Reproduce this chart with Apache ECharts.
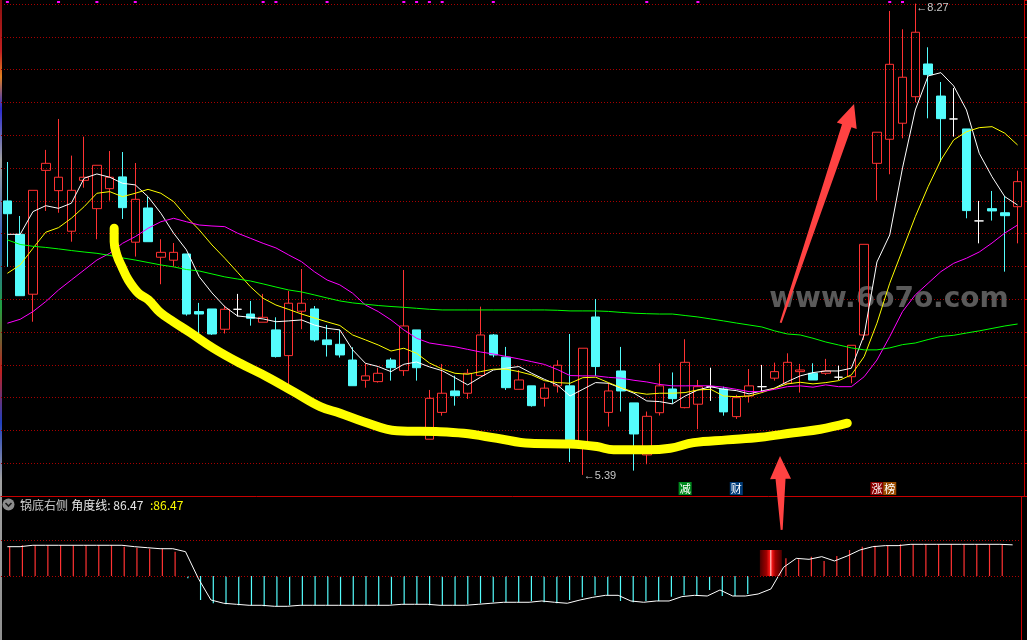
<!DOCTYPE html>
<html><head><meta charset="utf-8">
<script src="https://cdn.jsdelivr.net/npm/echarts@6/dist/echarts.min.js"></script>
<style>html,body{margin:0;padding:0;background:#000;overflow:hidden}#c{width:1027px;height:640px}</style>
</head><body><div id="c"></div>
<script>
// ---------- data ----------
const opens = [7.064,6.860,6.494,7.251,7.127,6.879,7.190,7.017,7.139,7.211,
 6.812,7.021,6.720,6.702,6.740,6.388,6.404,6.280,6.402,6.373,
 6.323,6.276,6.119,6.390,6.404,6.215,6.188,6.092,5.968,5.960,
 6.092,6.027,6.276,5.608,5.772,5.903,5.889,5.997,6.245,6.109,
 5.913,5.934,5.858,5.934,5.934,5.593,6.355,5.772,6.025,5.830,
 5.512,5.770,5.915,5.801,5.822,5.929,5.915,5.746,5.872,5.929,
 5.981,5.950,6.021,6.011,6.011,5.987,5.990,6.245,7.294,7.441,
 7.539,7.701,7.901,7.705,7.565,7.504,6.942,7.017,6.992,7.029];
const closes = [6.986,6.485,7.129,7.294,7.209,7.129,7.209,7.282,7.209,7.023,
 7.074,6.815,6.750,6.750,6.373,6.373,6.251,6.402,6.402,6.347,
 6.353,6.113,6.439,6.439,6.215,6.186,6.123,5.935,5.995,6.011,
 6.045,6.300,6.045,5.858,5.889,5.874,6.011,6.245,6.123,5.923,
 5.970,5.813,5.920,6.060,5.605,6.164,6.052,5.903,5.903,5.640,
 5.748,5.934,5.856,6.078,5.929,5.929,5.775,5.862,5.934,5.929,
 6.021,6.078,6.031,5.970,6.025,5.987,6.182,6.799,7.484,7.899,
 7.820,8.095,7.836,7.567,7.565,7.005,6.942,7.003,6.974,7.182];
const highs = [7.302,6.972,7.129,7.376,7.565,7.341,7.457,7.282,7.369,7.363,
 7.296,7.090,6.830,6.807,6.740,6.441,6.404,6.424,6.496,6.453,
 6.496,6.353,6.514,6.648,6.422,6.306,6.276,6.170,6.072,6.045,
 6.105,6.642,6.276,5.909,6.068,5.996,6.037,6.418,6.251,6.172,
 6.031,5.934,5.950,6.091,6.251,6.164,6.465,5.952,6.172,5.830,
 5.777,6.072,6.016,6.219,5.970,6.045,5.929,5.879,6.037,6.062,
 6.076,6.133,6.068,6.072,6.099,6.058,6.182,6.799,7.484,8.225,
 8.113,8.270,8.003,7.791,7.754,7.504,7.064,7.125,7.094,7.249];
const lows = [6.661,6.485,6.326,7.003,6.992,6.815,7.145,6.830,7.066,6.954,
 6.724,6.815,6.555,6.662,6.363,6.241,6.245,6.254,6.358,6.302,
 6.323,6.107,5.929,6.280,6.204,6.113,6.107,5.935,5.923,5.954,
 5.966,5.995,5.966,5.608,5.752,5.813,5.854,5.997,6.109,5.909,
 5.913,5.807,5.807,5.893,5.469,5.390,5.995,5.685,5.777,5.416,
 5.455,5.753,5.824,5.797,5.669,5.842,5.752,5.732,5.832,5.899,
 5.966,5.950,5.893,5.970,6.001,5.970,5.950,6.215,7.066,7.227,
 7.447,7.667,7.569,7.304,7.457,6.958,6.805,6.944,6.632,6.805];
const ma5 = [6.860,6.860,6.999,7.035,7.019,7.050,7.203,7.229,7.209,7.172,
 7.162,7.090,6.989,6.867,6.765,6.601,6.502,6.418,6.361,6.353,
 6.343,6.326,6.331,6.337,6.306,6.286,6.276,6.154,6.072,6.052,
 6.021,6.066,6.080,6.050,6.027,5.984,5.940,5.987,6.031,6.042,
 6.052,6.011,5.974,5.940,5.872,5.913,5.954,5.950,5.920,5.889,
 5.842,5.838,5.824,5.872,5.909,5.929,5.913,5.905,5.885,5.903,
 5.920,5.960,5.995,6.015,6.025,6.025,6.042,6.245,6.691,6.856,
 7.266,7.620,7.828,7.848,7.767,7.620,7.355,7.212,7.090,7.039];
const ma10 = [6.622,6.673,6.775,6.873,6.901,6.958,7.029,7.111,7.121,7.090,
 7.111,7.135,7.111,7.060,6.968,6.887,6.795,6.714,6.628,6.540,
 6.469,6.428,6.401,6.373,6.349,6.325,6.303,6.245,6.215,6.184,
 6.147,6.164,6.133,6.074,6.037,6.011,6.005,6.021,6.036,6.036,
 6.021,6.001,5.966,5.954,5.950,5.984,5.987,5.954,5.923,5.895,
 5.883,5.889,5.889,5.893,5.909,5.913,5.872,5.868,5.872,5.893,
 5.920,5.946,5.956,5.946,5.954,5.966,6.001,6.113,6.317,6.561,
 6.765,6.968,7.151,7.314,7.437,7.487,7.512,7.518,7.478,7.406];
const ma20 = [6.317,6.341,6.388,6.449,6.520,6.581,6.642,6.703,6.744,6.805,
 6.846,6.897,6.937,6.958,6.937,6.917,6.911,6.907,6.867,6.836,
 6.805,6.777,6.734,6.693,6.632,6.581,6.551,6.500,6.428,6.388,
 6.337,6.276,6.225,6.196,6.184,6.173,6.157,6.141,6.129,6.114,
 6.099,6.082,6.065,6.034,5.997,5.995,5.995,5.986,5.981,5.968,
 5.958,5.943,5.934,5.934,5.935,5.934,5.926,5.913,5.899,5.899,
 5.913,5.929,5.934,5.926,5.940,5.929,5.929,5.990,6.092,6.235,
 6.388,6.490,6.561,6.632,6.683,6.714,6.752,6.807,6.868,6.917];
const ma60 = [6.826,6.798,6.787,6.780,6.771,6.761,6.752,6.744,6.731,6.716,
 6.703,6.688,6.673,6.661,6.645,6.636,6.618,6.600,6.587,6.575,
 6.557,6.538,6.520,6.508,6.490,6.471,6.453,6.441,6.433,6.425,
 6.419,6.414,6.408,6.402,6.398,6.398,6.398,6.398,6.398,6.398,
 6.398,6.398,6.398,6.396,6.392,6.392,6.392,6.389,6.383,6.378,
 6.375,6.373,6.373,6.364,6.355,6.343,6.331,6.318,6.306,6.294,
 6.270,6.251,6.245,6.225,6.202,6.184,6.166,6.154,6.154,6.166,
 6.186,6.196,6.217,6.236,6.243,6.257,6.270,6.285,6.300,6.312];
// 角度线 indicator (lower panel)
const angleLine = [81.4,81.4,85.3,85.3,85.3,85.3,85.3,85.3,85.3,85.3,
 81.4,78.6,75.8,75.8,67.5,-6.4,-66.7,-75.8,-78.6,-81.4,
 -81.4,-84.2,-84.2,-81.4,-81.4,-81.4,-81.4,-81.4,-81.4,-81.4,
 -81.4,-78.6,-78.6,-78.6,-81.4,-81.4,-81.4,-78.6,-75.8,-73,
 -73,-73,-69.4,-73,-75.8,-66.7,-59.3,-53.7,-53.7,-69.4,
 -73,-69.4,-69.4,-57.4,-53.7,-55.6,-38.9,-55.6,-55.6,-50,
 -36.1,24.2,49,46.3,53.7,41.7,55.6,72.2,81.4,84.3,
 84.3,88,88,88,88,88,88,88,88,86.47];
const signalIndex = 60;      // 锅底右侧 signal bar
const signalValue = 72.2;
// small magenta event marks along the top
const eventMarks = [0,4,7,10,20,21,25,31,32,33,34,38,50,54,69,70];
// event tags at the bottom of the price panel
const tagIdx = [53,57,68,69];
const tagText = ['减','财','涨','榜'];
// hand-drawn annotations (candle index, price)
const potX = [8.35,8.35,8.56,8.95,9.46,10.25,11.03,11.94,12.98,14.29,16.11,18.20,20.29,22.37,24.46,26.02,27.85,30.46,33.84,35.67,38.28,40.88,44.01,46.10,47.40,50.01,51.83,53.66,56.27,58.88,61.48,63.57,65.68];
const potY = [6.897,6.815,6.734,6.662,6.581,6.500,6.459,6.383,6.326,6.260,6.164,6.072,5.990,5.899,5.807,5.767,5.715,5.660,5.654,5.644,5.614,5.583,5.579,5.563,5.543,5.543,5.553,5.587,5.604,5.620,5.648,5.669,5.706];
const arrowTail = [[60.47,6.320],[60.55,5.054]];
const arrowTip  = [[66.21,7.657],[60.42,5.506]];
// axis ranges
const priceMax = 8.292, priceMin = 5.261;
const angleMin = -177.8, angleMax = 219.4;

// ---------- build ----------
const N = opens.length;
const categories = opens.map((_, i) => String(i + 1));
const kData = opens.map((o, i) => [o, closes[i], lows[i], highs[i]]);
const iHi = highs.indexOf(Math.max(...highs));
const iLo = lows.indexOf(Math.min(...lows));
const RED = '#ff3232', CYAN = '#54fcfc';
const tagColors = {'减':'#008a1e','财':'#003c78','涨':'#8c0000','榜':'#9a4c00'};
const lastAngle = angleLine[N - 1].toFixed(2);

const chart = echarts.init(document.getElementById('c'));
const maLine = (name, data, color) => ({
  name, type:'line', data, xAxisIndex:0, yAxisIndex:0, symbol:'none', silent:true,
  lineStyle:{color, width:1}, z:3
});

chart.setOption({
  backgroundColor:'#000000',
  animation:false,
  textStyle:{fontFamily:'"Noto Sans CJK SC", "DejaVu Sans", sans-serif'},
  grid:[
    {left:1, right:3, top:0, height:496},
    {left:1, width:1018, top:497, height:143}
  ],
  xAxis:[
    {type:'category', gridIndex:0, data:categories, boundaryGap:true,
     axisLine:{show:true, onZero:false, lineStyle:{color:'#c80000', width:1}},
     axisTick:{show:false}, axisLabel:{show:false}, splitLine:{show:false}},
    {type:'value', gridIndex:0, min:-0.5, max:N - 0.5, show:false},
    {type:'category', gridIndex:1, data:categories, boundaryGap:true, show:false}
  ],
  yAxis:[
    {type:'value', gridIndex:0, min:priceMin, max:priceMax, show:false, scale:true},
    {type:'value', gridIndex:0, min:-0.686, max:14.436, interval:1, position:'right',
     axisLine:{show:true, lineStyle:{color:'#c80000'}},
     axisTick:{show:true, inside:false, length:4, lineStyle:{color:'#c80000'}},
     axisLabel:{show:false},
     splitLine:{show:true, showMinLine:false, showMaxLine:false,
       lineStyle:{color:'#a80000', type:[1,2], width:1}}},
    {type:'value', gridIndex:1, min:angleMin, max:angleMax, position:'right', offset:2,
     axisLine:{show:true, lineStyle:{color:'#c80000'}},
     axisTick:{show:false}, axisLabel:{show:false}, splitLine:{show:false}}
  ],
  graphic:[
    {type:'rect', z:0, silent:true, shape:{x:0, y:0, width:2, height:640},
     style:{fill:new echarts.graphic.LinearGradient(0,0,0,1,[
       {offset:0,color:'#8a1010'},{offset:0.08,color:'#c02020'},{offset:0.12,color:'#e08020'},
       {offset:0.17,color:'#2a2ad0'},{offset:0.25,color:'#a0a0a0'},{offset:0.38,color:'#3060c0'},
       {offset:0.48,color:'#20a040'},{offset:0.58,color:'#c02020'},{offset:0.66,color:'#2040c0'},
       {offset:0.75,color:'#a0a0a0'},{offset:1,color:'#909090'}])}},
    {type:'text', z:1, silent:true, x:889, y:300,
     style:{text:'www.6o7o.com', align:'center', verticalAlign:'middle',
       font:'bold 28px "DejaVu Sans"', fill:'#5a5a5a'}},
    {type:'circle', z:5, silent:true, shape:{cx:8.5, cy:504.5, r:6}, style:{fill:'#8c8c8c'}},
    {type:'polyline', z:6, silent:true, shape:{points:[[5.5,503],[8.5,506],[11.5,503]]},
     style:{stroke:'#1a1a1a', lineWidth:1.6, fill:null}},
    {type:'text', z:5, silent:true, x:20, y:505,
     style:{text:'{a|锅底右侧} {b|角度线: ' + lastAngle + '}  {c|:' + lastAngle + '}',
       verticalAlign:'middle',
       rich:{
         a:{fill:'#c8c8c8', font:'12px "Noto Sans CJK SC"'},
         b:{fill:'#e8e8e8', font:'12px "Noto Sans CJK SC"'},
         c:{fill:'#ffff00', font:'12px "Noto Sans CJK SC"'}
       }}}
  ],
  series:[
    {type:'candlestick', name:'K', data:kData, xAxisIndex:0, yAxisIndex:0, barWidth:9, z:2, silent:true,
     itemStyle:{color:'rgba(0,0,0,0)', color0:CYAN, borderColor:RED, borderColor0:CYAN,
       borderColorDoji:'#ffffff', borderWidth:1},
     markPoint:{symbol:'circle', symbolSize:0, silent:true, animation:false,
       label:{show:true, position:'right', distance:1, color:'#c8c8c8', fontSize:11,
         fontFamily:'"Liberation Sans", "DejaVu Sans"',
         formatter:p => '\u2190' + Number(p.value).toFixed(2)},
       data:[
         {coord:[categories[iHi], highs[iHi]], value:highs[iHi], label:{offset:[0,4]}},
         {coord:[categories[iLo], lows[iLo]], value:lows[iLo], label:{offset:[0,1]}}
       ]}},
    maLine('MA5', ma5, '#ffffff'),
    maLine('MA10', ma10, '#ffff00'),
    maLine('MA20', ma20, '#ff00ff'),
    maLine('MA60', ma60, '#00ff00'),
    {type:'custom', name:'marks', xAxisIndex:0, yAxisIndex:0, silent:true, clip:false, z:4,
     data:eventMarks.map(i => [i, priceMax]),
     renderItem:(params, api) => {
       const x = api.coord([api.value(0), api.value(1)])[0];
       return {type:'rect', shape:{x:x - 1.5, y:params.coordSys.y + 1, width:3, height:2},
         style:{fill:'#ff00ff'}};
     }},
    {type:'custom', name:'tags', xAxisIndex:0, yAxisIndex:0, silent:true, clip:false, z:5,
     data:tagIdx.map(i => [i, priceMin]),
     renderItem:(params, api) => {
       const x = api.coord([api.value(0), api.value(1)])[0];
       const yb = params.coordSys.y + params.coordSys.height;
       const t = tagText[params.dataIndex];
       return {type:'group', children:[
         {type:'rect', shape:{x:x - 6.5, y:yb - 14, width:13, height:13}, style:{fill:tagColors[t]}},
         {type:'text', style:{text:t, x:x, y:yb - 7.5, align:'center', verticalAlign:'middle',
           fill:'#ffffff', font:'11px "Noto Sans CJK SC"'}}
       ]};
     }},
    {type:'line', name:'pot', xAxisIndex:1, yAxisIndex:0, silent:true, z:6, symbol:'none',
     smooth:0.4, data:potX.map((x, i) => [x, potY[i]]),
     lineStyle:{color:'#ffff00', width:9, cap:'round', join:'round'}},
    {type:'custom', name:'arrows', xAxisIndex:1, yAxisIndex:0, silent:true, clip:false, z:10,
     data:arrowTail.map((t, i) => [t[0], t[1], arrowTip[i][0], arrowTip[i][1]]),
     encode:{x:[0,2], y:[1,3]},
     renderItem:(params, api) => {
       const a = api.coord([api.value(0), api.value(1)]);
       const b = api.coord([api.value(2), api.value(3)]);
       const dx = b[0] - a[0], dy = b[1] - a[1], L = Math.hypot(dx, dy);
       const ux = dx / L, uy = dy / L, nx = -uy, ny = ux;
       const H = 23, HW = 10.5, NW = 5, TW = 1;
       const bx = b[0] - ux * H, by = b[1] - uy * H;
       return {type:'polygon', shape:{points:[
         [a[0] + nx * TW, a[1] + ny * TW], [bx + nx * NW, by + ny * NW], [bx + nx * HW, by + ny * HW],
         [b[0], b[1]],
         [bx - nx * HW, by - ny * HW], [bx - nx * NW, by - ny * NW], [a[0] - nx * TW, a[1] - ny * TW]
       ]}, style:{fill:'#ff4242'}};
     }},
    {type:'bar', name:'angleBars', xAxisIndex:2, yAxisIndex:2, silent:true, barWidth:1.2, z:2,
     data:angleLine.map((v, i) => i === signalIndex ? null : v),
     itemStyle:{color:p => p.value >= 0 ? RED : CYAN}},
    {type:'bar', name:'signal', xAxisIndex:2, yAxisIndex:2, silent:true, barWidth:22, barGap:'-100%', z:3,
     data:angleLine.map((v, i) => i === signalIndex ? signalValue : null),
     itemStyle:{color:new echarts.graphic.LinearGradient(0,0,1,0,[
       {offset:0,color:'#4a0000'},{offset:0.3,color:'#a00000'},{offset:0.46,color:'#ff1a1a'},
       {offset:0.5,color:'#ffffff'},{offset:0.54,color:'#ff1a1a'},{offset:0.7,color:'#a00000'},
       {offset:1,color:'#4a0000'}])}},
    {type:'line', name:'角度线', xAxisIndex:2, yAxisIndex:2, data:angleLine, symbol:'none', silent:true, z:4,
     lineStyle:{color:'#ffffff', width:1},
     markLine:{silent:true, symbol:['none','none'], animation:false, label:{show:false},
       lineStyle:{color:'#b00000', type:[1,2], width:1},
       data:[{yAxis:0},{yAxis:100}]}}
  ]
});
</script>
</body></html>
